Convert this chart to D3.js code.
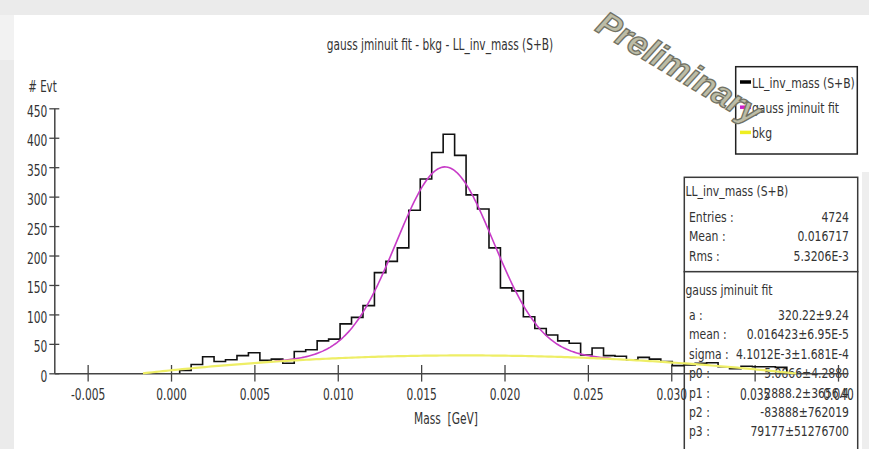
<!DOCTYPE html>
<html>
<head>
<meta charset="utf-8">
<script src="https://cdn.jsdelivr.net/npm/d3@7"></script>
<style>
  html, body { margin: 0; padding: 0; background: #ebebeb; }
  svg { display: block; }
  text { font-family: "DejaVu Sans Condensed", "DejaVu Sans", sans-serif; font-stretch: condensed; fill: #333; white-space: pre; }
</style>
</head>
<body>
<svg id="chart" width="869" height="449"></svg>
<script>
// ---- histogram: LL_inv_mass (S+B), counts per bin ----
const binLow = 0.00052;
const binWidth = 0.000687;
const counts = [
  5, 15, 28, 20, 23, 30, 35, 22, 24, 17,
  37, 40, 55, 58, 84, 95, 115, 171, 190, 213,
  277, 330, 375, 406, 370, 303, 279, 213, 145, 140,
  96, 76, 65, 55, 51, 31, 43, 30, 29, 23,
  27, 24, 20, 13, 14, 17, 18, 11, 8, 12,
  11, 11, 10
];

// ---- fit results (gauss + cubic background) ----
const fitNames = ["a :", "mean :", "sigma :", "p0 :", "p1 :", "p2 :", "p3 :"];
const fitValues = ["320.22", "0.016423", "4.1012E-3", "5.0866", "2888.2", "-83888", "79177"];
const fitErrors = ["9.24", "6.95E-5", "1.681E-4", "4.2880", "3656.4", "762019", "51276700"];
const fitRange = [0.0062, 0.0264];
const bkgRange = [-0.00168, 0.0375];

// ---- histogram statistics ----
const statNames = ["Entries :", "Mean :", "Rms :"];
const statValues = ["4724", "0.016717", "5.3206E-3"];

// ---- axes ----
const xTicks = [-0.005, 0.000, 0.005, 0.010, 0.015, 0.020, 0.025, 0.030, 0.035, 0.040];
const xTickLabels = ["-0.005", "0.000", "0.005", "0.010", "0.015", "0.020", "0.025", "0.030", "0.035", "0.040"];
const yTicks = [0, 50, 100, 150, 200, 250, 300, 350, 400, 450];
const yTickLabels = ["0", "50", "100", "150", "200", "250", "300", "350", "400", "450"];

// ---- legend ----
const legendNames = ["LL_inv_mass (S+B)", "gauss jminuit fit", "bkg"];
const legendColors = ["#000000", "#cc22cc", "#eeee22"];

const W = 869, H = 449;
const svg = d3.select("#chart");

// narrow text: condensed face squeezed horizontally
function label(parent, str, x, y, size, sx, anchor) {
  return parent.append("text")
    .attr("transform", `translate(${x},${y}) scale(${sx},1)`)
    .attr("text-anchor", anchor || "start")
    .style("font-size", size + "px")
    .text(str);
}

// backdrop panels
svg.append("rect").attr("width", W).attr("height", H).attr("fill", "#ebebeb");
svg.append("rect").attr("x", 0).attr("y", 15).attr("width", 14).attr("height", 45).attr("fill", "#f2f2f2");
svg.append("rect").attr("x", 14).attr("y", 15).attr("width", W - 14).attr("height", H - 15).attr("fill", "#ffffff");
svg.append("rect").attr("x", 862).attr("y", 172).attr("width", 7).attr("height", H - 172).attr("fill", "#eeeeee");

const x = d3.scaleLinear().domain([-0.007, 0.0406]).range([54.3, 848]);
const y = d3.scaleLinear().domain([0, 450]).range([373.3, 108.3]);

// fitted functions from the reported parameters
const par = fitValues.map(Number);
const bkg = v => par[3] + par[4] * v + par[5] * v * v + par[6] * v * v * v;
const gauss = v => par[0] * Math.exp(-(((v - par[1]) / par[2]) ** 2));
const total = v => gauss(v) + bkg(v);

// ---- statistics boxes (drawn beneath the plot) ----
const boxX0 = 684.3, boxX1 = 857.7;
svg.append("rect").attr("x", boxX0).attr("y", 177.3).attr("width", boxX1 - boxX0).attr("height", 94.4)
  .attr("fill", "#fff").attr("stroke", "#3a3a3a").attr("stroke-width", 1.5);
svg.append("rect").attr("x", boxX0).attr("y", 271.7).attr("width", boxX1 - boxX0).attr("height", 200)
  .attr("fill", "#fff").attr("stroke", "#3a3a3a").attr("stroke-width", 1.5);

const tSize = 14.5, tSx = 0.83;
label(svg, "LL_inv_mass (S+B)", 685.5, 195.5, tSize, tSx);
statNames.forEach((n, i) => {
  label(svg, n, 689, 222 + i * 19.3, tSize, tSx);
  label(svg, statValues[i], 849, 222 + i * 19.3, tSize, tSx, "end");
});
label(svg, "gauss jminuit fit", 685.5, 295, tSize, tSx);
fitNames.forEach((n, i) => {
  label(svg, n, 689, 320 + i * 19.4, tSize, tSx);
  label(svg, fitValues[i] + "±" + fitErrors[i], 849, 320 + i * 19.4, tSize, tSx, "end");
});

// ---- title and axis titles ----
const aSize = 15, aSx = 0.79;
label(svg, "gauss jminuit fit - bkg - LL_inv_mass (S+B)", 440, 50, 15.5, 0.76, "middle");
label(svg, "# Evt", 28.3, 91.5, aSize, 0.76);
label(svg, "Mass  [GeV]", 446, 424, aSize, aSx, "middle");

// ---- axes ----
const axisColor = "#444";
const gx = svg.append("g").attr("transform", `translate(0,${y(0)})`)
  .call(d3.axisBottom(x).tickValues(xTicks).tickFormat((d, i) => xTickLabels[i]).tickSizeOuter(0));
const gy = svg.append("g").attr("transform", `translate(${x.range()[0]},0)`)
  .call(d3.axisLeft(y).tickValues(yTicks).tickFormat((d, i) => yTickLabels[i]).tickSizeOuter(0));

[gx, gy].forEach(g => {
  g.select(".domain").attr("stroke", axisColor).attr("stroke-width", 1.5);
  g.selectAll(".tick line").attr("stroke", axisColor).attr("stroke-width", 1.3);
  g.selectAll(".tick text").attr("fill", "#333").style("font-size", aSize + "px")
    .style("font-family", '"DejaVu Sans Condensed", "DejaVu Sans", sans-serif');
});
gx.selectAll(".tick line").attr("y1", -8.3).attr("y2", 8.3);
gx.selectAll(".tick text").attr("y", null).attr("dy", 0)
  .attr("transform", `translate(0,26.7) scale(${aSx},1)`);
gy.selectAll(".tick line").attr("x1", -5).attr("x2", 5);
gy.selectAll(".tick text").attr("x", null).attr("dy", 0)
  .attr("transform", `translate(-7,8) scale(${aSx},1)`);

// ---- histogram outline ----
const steps = [[binLow, 0]];
counts.forEach((c, i) => {
  steps.push([binLow + i * binWidth, c]);
  steps.push([binLow + (i + 1) * binWidth, c]);
});
steps.push([binLow + counts.length * binWidth, 0]);
const line = d3.line().x(d => x(d[0])).y(d => y(d[1]));
svg.append("path").attr("d", line(steps)).attr("fill", "none")
  .attr("stroke", "#111").attr("stroke-width", 1.6);

// ---- fit curves ----
const sample = (r, n) => d3.range(n + 1).map(i => r[0] + (r[1] - r[0]) * i / n);
svg.append("path").attr("d", line(sample(fitRange, 200).map(v => [v, total(v)])))
  .attr("fill", "none").attr("stroke", "#c83cc8").attr("stroke-width", 1.6);
svg.append("path").attr("d", line(sample(bkgRange, 200).map(v => [v, Math.max(0, bkg(v))])))
  .attr("fill", "none").attr("stroke", "#eeee66").attr("stroke-width", 2.2);

// ---- legend ----
svg.append("rect").attr("x", 735.7).attr("y", 66.7).attr("width", 121.6).attr("height", 87.3)
  .attr("fill", "#fff").attr("stroke", "#222").attr("stroke-width", 1.5);
legendNames.forEach((n, i) => {
  const ly = 82 + i * 25.2;
  svg.append("line").attr("x1", 740).attr("x2", 751).attr("y1", ly).attr("y2", ly)
    .attr("stroke", legendColors[i]).attr("stroke-width", 3.5);
  label(svg, n, 752, ly + 5.8, tSize, tSx);
});

// ---- watermark ----
svg.append("text").attr("transform", "translate(594,30) rotate(31)")
  .style("font-family", '"Liberation Sans", Arial, sans-serif').style("font-stretch", "normal")
  .style("font-weight", "bold").style("font-style", "italic").style("font-size", "34px")
  .attr("stroke", "#727264").attr("stroke-width", 1.3)
  .style("fill", "#bcbca6")
  .text("Preliminary");
</script>
</body>
</html>
